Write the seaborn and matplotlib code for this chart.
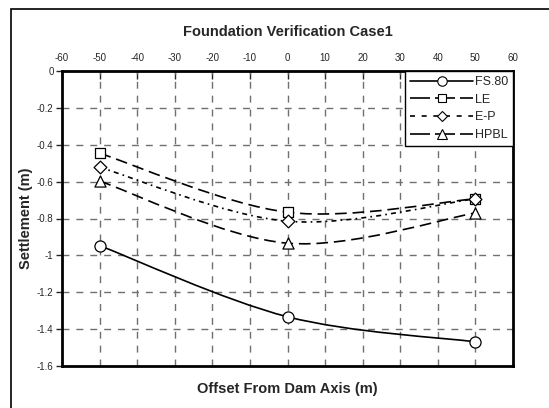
import numpy as np
import pandas as pd
import matplotlib
matplotlib.use("Agg")
import matplotlib.pyplot as plt
import seaborn as sns
from matplotlib.path import Path
from matplotlib.patches import PathPatch, Rectangle
from matplotlib.lines import Line2D

offsets = [-50, 0, 50]
fs80 = [-0.947, -1.333, -1.469]
le = [-0.446, -0.766, -0.693]
ep = [-0.522, -0.815, -0.693]
hpbl = [-0.597, -0.934, -0.770]
series_names = ["FS.80", "LE", "E-P", "HPBL"]
series_values = [fs80, le, ep, hpbl]
x_ticks = list(range(-60, 61, 10))
y_ticks = [0, -0.2, -0.4, -0.6, -0.8, -1, -1.2, -1.4, -1.6]

sns.set_style("white")
plt.rcParams['font.family'] = ['Liberation Sans', 'DejaVu Sans']

fig = plt.figure(figsize=(5.49, 4.08), dpi=100)
ax = fig.add_axes([62/549, 1-366/408, (513-62)/549, (366-71)/408])

styles = {
    "FS.80": dict(marker="o", dash=None, legdash=None),
    "LE": dict(marker="s", dash=(7, 3.5), legdash=(12, 3)),
    "E-P": dict(marker="D", dash=(3, 2.5, 1, 2.5), legdash=(3, 4)),
    "HPBL": dict(marker="^", dash=(7, 3.5), legdash=(12, 3)),
}
msizes = {"o": 8, "s": 7.5, "D": 6.5, "^": 8}

def smooth_path(xs, ys):
    pts = np.column_stack([xs, ys]).astype(float)
    n = len(pts)
    verts = [pts[0]]
    codes = [Path.MOVETO]
    for i in range(n - 1):
        p_prev = pts[max(i - 1, 0)]
        p0 = pts[i]
        p1 = pts[i + 1]
        p_next = pts[min(i + 2, n - 1)]
        c1 = p0 + (p1 - p_prev) / 6.0
        c2 = p1 - (p_next - p0) / 6.0
        verts += [c1, c2, p1]
        codes += [Path.CURVE4] * 3
    return Path(verts, codes)

rows = []
for name, vals in zip(series_names, series_values):
    for x, y in zip(offsets, vals):
        rows.append(dict(offset=x, settlement=y, series=name))
df = pd.DataFrame(rows)

handles = []
for name, vals in zip(series_names, series_values):
    st = styles[name]
    patch = PathPatch(smooth_path(offsets, vals), facecolor="none", edgecolor="black",
                      lw=1.2, zorder=3)
    if st["dash"] is not None:
        patch.set_linestyle((0, st["dash"]))
    ax.add_patch(patch)
    sub = df[df.series == name]
    sns.scatterplot(data=sub, x="offset", y="settlement", marker=st["marker"],
                    s=msizes[st["marker"]] ** 2, facecolor="white", edgecolor="black",
                    linewidth=0.9, zorder=4, ax=ax, legend=False)
    ls = "-" if st["legdash"] is None else (0, st["legdash"])
    handles.append(Line2D([], [], color="black", lw=1.2, linestyle=ls, marker=st["marker"],
                          markersize=msizes[st["marker"]] * 0.85, markerfacecolor="white",
                          markeredgecolor="black", markeredgewidth=0.8, label=name))

ax.set_xlim(-60, 60)
ax.set_ylim(-1.6, 0)
ax.set_xticks(x_ticks)
ax.set_yticks(y_ticks)
ax.set_xticklabels([str(t) for t in x_ticks], fontsize=7)
ax.set_yticklabels([("%g" % t) for t in y_ticks], fontsize=7)
ax.xaxis.tick_top()
ax.tick_params(axis="x", direction="in", length=6, width=1, pad=6, top=True, bottom=False)
ax.tick_params(axis="y", direction="out", length=4, width=1, pad=2, left=True)
ax.set_xlabel("")
ax.set_ylabel("")

for v in x_ticks[1:-1]:
    ax.axvline(v, color="#707070", lw=1, dashes=(5, 5), zorder=1)
for v in y_ticks[1:-1]:
    ax.axhline(v, color="#707070", lw=1, dashes=(5, 5), zorder=1)

for sp in ax.spines.values():
    sp.set_visible(True)
    sp.set_color("black")
    sp.set_linewidth(2)

leg = ax.legend(handles=handles, loc="upper right", bbox_to_anchor=(1.0, 1.0),
                borderaxespad=0, fontsize=9, frameon=True, fancybox=False,
                edgecolor="black", handlelength=5.0, handletextpad=0.15,
                labelspacing=0.45, borderpad=0.4, framealpha=1)
leg.get_frame().set_linewidth(1.0)
leg.set_zorder(10)

fig.text((62+513)/2/549, 1-32/408, "Foundation Verification Case1", ha="center", va="center",
         fontsize=10.5, fontweight="bold")
fig.text((62+513)/2/549, 1-389/408, "Offset From Dam Axis (m)", ha="center", va="center",
         fontsize=10.5, fontweight="bold")
fig.text(26/549, 1-(71+366)/2/408, "Settlement (m)", ha="center", va="center",
         fontsize=10.5, fontweight="bold", rotation=90)

fig.patches.append(Rectangle((11/549, -0.1), 1.2, 1 - 9/408 + 0.1, transform=fig.transFigure,
                             fill=False, edgecolor="black", lw=1.2))

fig.savefig("out.png", dpi=100, facecolor="white")
